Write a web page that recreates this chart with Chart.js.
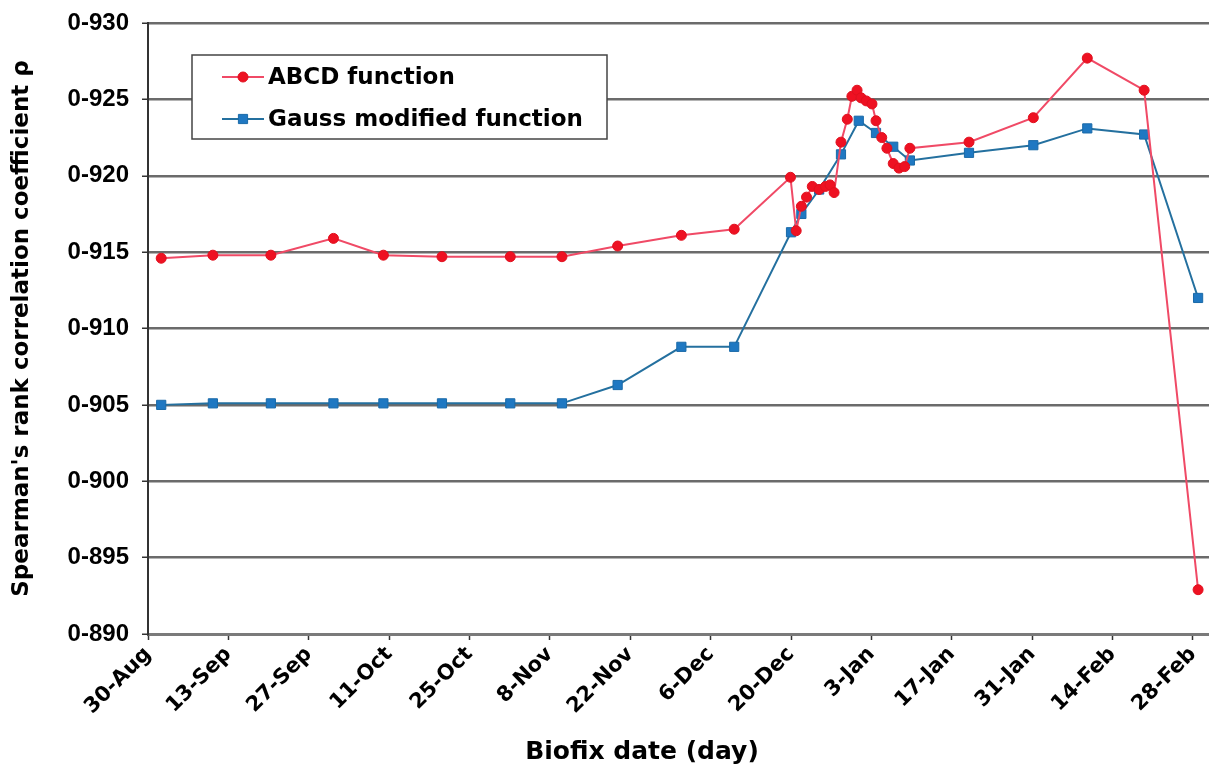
<!DOCTYPE html>
<html>
<head>
<meta charset="utf-8">
<title>Spearman's rank correlation vs biofix date</title>
<script src="https://cdn.jsdelivr.net/npm/chart.js@4.4.0/dist/chart.umd.min.js"></script>
<style>
    html, body { margin: 0; padding: 0; background: #fff; overflow: hidden; }
    #wrap { width: 1209px; height: 776px; position: relative; }
</style>
</head>
<body>
<div id="wrap"><canvas id="chart"></canvas></div>
<script>
// Biofix dates are kept as days after 30 August
const tickDays = [0, 14, 28, 42, 56, 70, 84, 98, 112, 126, 140, 154, 168, 182];
const tickLabels = ['30-Aug', '13-Sep', '27-Sep', '11-Oct', '25-Oct', '8-Nov', '22-Nov',
    '6-Dec', '20-Dec', '3-Jan', '17-Jan', '31-Jan', '14-Feb', '28-Feb'];
const yTicks = [0.890, 0.895, 0.900, 0.905, 0.910, 0.915, 0.920, 0.925, 0.930];

const abcdDays = [2.3, 11.3, 21.4, 32.3, 41.0, 51.2, 63.1, 72.1, 81.8, 92.9, 102.1,
    111.9, 112.9, 113.8, 114.7, 115.7, 116.9, 118.0, 118.8, 119.5, 120.7, 121.8, 122.6,
    123.5, 124.2, 125.1, 126.1, 126.8, 127.8, 128.7, 129.8, 130.8, 131.8, 132.7,
    143.0, 154.2, 163.6, 173.5, 182.9];
const abcdRho = [0.9146, 0.9148, 0.9148, 0.9159, 0.9148, 0.9147, 0.9147, 0.9147, 0.9154, 0.9161, 0.9165,
    0.9199, 0.9164, 0.9180, 0.9186, 0.9193, 0.9191, 0.9193, 0.9194, 0.9189, 0.9222, 0.9237, 0.9252,
    0.9256, 0.9251, 0.9249, 0.9247, 0.9236, 0.9225, 0.9218, 0.9208, 0.9205, 0.9206, 0.9218,
    0.9222, 0.9238, 0.9277, 0.9256, 0.8929];

const gaussDays = [2.3, 11.3, 21.4, 32.3, 41.0, 51.2, 63.1, 72.1, 81.8, 92.9, 102.1,
    112.0, 113.8, 116.9, 120.7, 123.8, 126.8, 129.8, 132.7, 143.0, 154.2, 163.6, 173.5, 182.9];
const gaussRho = [0.9050, 0.9051, 0.9051, 0.9051, 0.9051, 0.9051, 0.9051, 0.9051, 0.9063, 0.9088, 0.9088,
    0.9163, 0.9175, 0.9191, 0.9214, 0.9236, 0.9228, 0.9219, 0.9210, 0.9215, 0.9220, 0.9231, 0.9227, 0.9120];

const toPoints = (xs, ys) => xs.map((x, i) => ({ x: x, y: ys[i] }));

const boldFont = (family, size) => ({ family: family, size: size, weight: 'bold' });

// Legend drawn inside the plot, framed like the original
const boxLegend = {
    id: 'boxLegend',
    afterDatasetsDraw(chart) {
        const ctx = chart.ctx;
        const area = chart.chartArea;
        const x0 = area.left + 44;
        const y0 = area.top + 32;
        ctx.save();
        ctx.fillStyle = '#ffffff';
        ctx.fillRect(x0, y0, 415, 84);
        ctx.strokeStyle = '#444';
        ctx.lineWidth = 1.5;
        ctx.strokeRect(x0, y0, 415, 84);
        ctx.font = "bold 23px 'DejaVu Sans', sans-serif";
        ctx.textBaseline = 'middle';
        chart.data.datasets.forEach((ds, i) => {
            const y = y0 + 22 + i * 42;
            ctx.strokeStyle = ds.borderColor;
            ctx.lineWidth = 2;
            ctx.beginPath();
            ctx.moveTo(x0 + 30, y);
            ctx.lineTo(x0 + 72, y);
            ctx.stroke();
            ctx.fillStyle = ds.pointBackgroundColor;
            ctx.strokeStyle = ds.pointBorderColor;
            ctx.lineWidth = 1;
            Chart.helpers.drawPoint(ctx, { pointStyle: ds.pointStyle, radius: ds.pointRadius, rotation: 0, borderWidth: 1 }, x0 + 51, y);
            ctx.fillStyle = '#000';
            ctx.fillText(ds.label, x0 + 76, y + 1);
        });
        ctx.restore();
    }
};

// X axis title, placed where the original has it
const xTitle = {
    id: 'xTitle',
    afterDraw(chart) {
        const ctx = chart.ctx;
        ctx.save();
        ctx.font = "bold 25px 'DejaVu Sans', sans-serif";
        ctx.fillStyle = '#000';
        ctx.textAlign = 'center';
        ctx.textBaseline = 'middle';
        ctx.fillText('Biofix date (day)', 642, 752);
        ctx.restore();
    }
};

const ctx = document.getElementById('chart').getContext('2d');
new Chart(ctx, {
    type: 'line',
    data: {
        datasets: [
            {
                label: 'ABCD function',
                data: toPoints(abcdDays, abcdRho),
                borderColor: '#f04a66',
                borderWidth: 2,
                pointStyle: 'circle',
                pointRadius: 5,
                pointBackgroundColor: '#ee1122',
                pointBorderColor: '#e0101e',
                pointBorderWidth: 1,
                tension: 0
            },
            {
                label: 'Gauss modified function',
                data: toPoints(gaussDays, gaussRho),
                borderColor: '#24709f',
                borderWidth: 2,
                pointStyle: 'rect',
                pointRadius: 6.5,
                pointBackgroundColor: '#1f78c2',
                pointBorderColor: '#1a6aa8',
                pointBorderWidth: 1,
                tension: 0
            }
        ]
    },
    options: {
        responsive: true,
        maintainAspectRatio: false,
        animation: false,
        layout: { autoPadding: false, padding: { top: 23, left: 0, right: 0, bottom: 0 } },
        plugins: {
            legend: { display: false },
            tooltip: { enabled: false }
        },
        scales: {
            x: {
                type: 'linear',
                min: 0,
                max: 184.8,
                afterBuildTicks: (scale) => { scale.ticks = tickDays.map(v => ({ value: v })); },
                afterFit: (scale) => {
                    scale.height = 142;
                    scale.paddingLeft = 0;
                    scale.paddingRight = 0;
                },
                grid: { drawOnChartArea: false, drawTicks: true, tickLength: 6, tickColor: '#333', tickWidth: 1.5 },
                border: { color: '#7a7a7a', width: 3 },
                ticks: {
                    autoSkip: false,
                    minRotation: 45,
                    maxRotation: 45,
                    padding: 2,
                    color: '#000',
                    font: boldFont("'DejaVu Sans', sans-serif", 21),
                    callback: (value, index) => tickLabels[index]
                }
            },
            y: {
                min: 0.890,
                max: 0.930,
                afterBuildTicks: (scale) => { scale.ticks = yTicks.map(v => ({ value: v })); },
                afterFit: (scale) => {
                    scale.width = 148;
                    scale.paddingTop = 0;
                    scale.paddingBottom = 0;
                },
                grid: { color: '#6b6b6b', lineWidth: 2.5, drawTicks: true, tickLength: 6, tickColor: '#333', tickWidth: 1.5 },
                border: { color: '#333', width: 2 },
                ticks: {
                    padding: 13,
                    color: '#000',
                    font: boldFont("'Liberation Sans', Arial, sans-serif", 24),
                    callback: (value) => value.toFixed(3).replace('.', '-')
                },
                title: {
                    display: true,
                    text: "Spearman's rank correlation coefficient ρ",
                    color: '#000',
                    font: boldFont("'DejaVu Sans', sans-serif", 23),
                    padding: { top: 8, bottom: 0 }
                }
            }
        }
    },
    plugins: [boxLegend, xTitle]
});
</script>
</body>
</html>
